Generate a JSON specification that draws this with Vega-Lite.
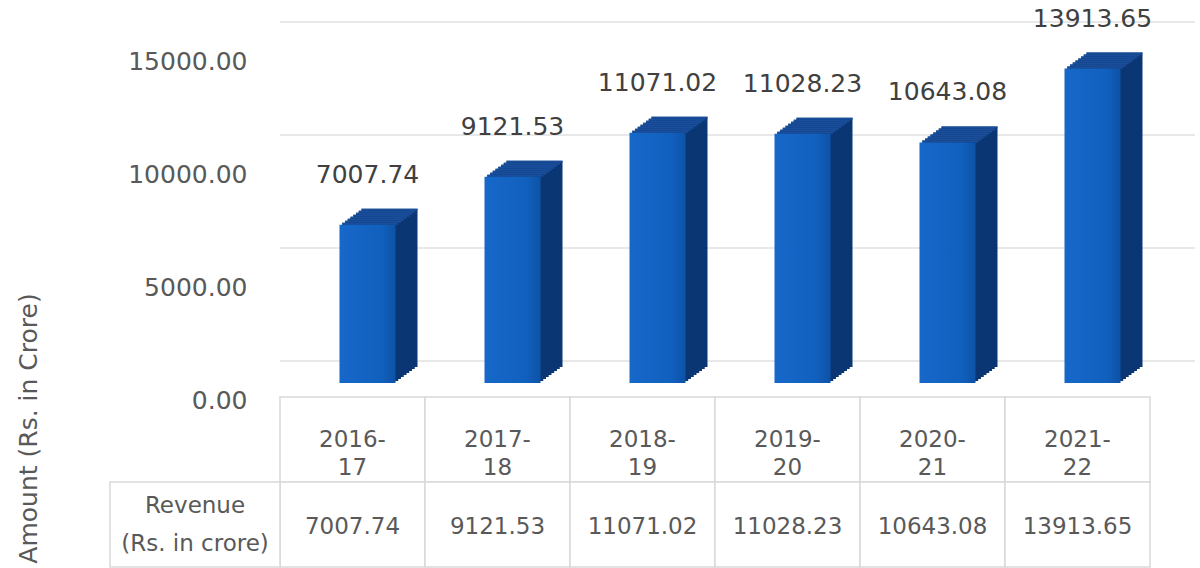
{
  "$schema": "https://vega.github.io/schema/vega-lite/v6.json",
  "width": 870,
  "height": 339,
  "autosize": {"type": "none"},
  "padding": {"left": 280, "top": 44, "right": 50, "bottom": 185},
  "background": "white",
  "config": {
    "view": {"stroke": null},
    "font": "DejaVu Sans",
    "text": {"font": "DejaVu Sans"}
  },
  "datasets": {
    "revenue": [
      {"year": "2016-17", "value": 7007.74},
      {"year": "2017-18", "value": 9121.53},
      {"year": "2018-19", "value": 11071.02},
      {"year": "2019-20", "value": 11028.23},
      {"year": "2020-21", "value": 10643.08},
      {"year": "2021-22", "value": 13913.65}
    ],
    "grid": [{"level": 0}, {"level": 5000}, {"level": 10000}, {"level": 15000}],
    "header": [{"header": "Revenue\n(Rs. in crore)"}]
  },
  "layer": [
    {
      "data": {"name": "revenue"},
      "encoding": {
        "x": {"field": "year", "type": "nominal", "sort": null, "scale": {"paddingInner": 0, "paddingOuter": 0}, "axis": null},
        "y": {"field": "value", "type": "quantitative", "title": "Amount (Rs. in Crore)", "scale": {"domain": [0, 15000], "nice": false, "zero": true},
          "axis": {"values": [0, 5000, 10000, 15000], "format": ".2f", "grid": false, "ticks": false, "domain": false, "labelOffset": 17, "labelPadding": 33, "labelFontSize": 25, "labelColor": "#595959", "labelFont": "DejaVu Sans",
            "titleFont": "DejaVu Sans", "titleFontSize": 25, "titleFontWeight": "normal", "titleColor": "#595959", "titleX": -252, "titleY": 384, "titleAngle": -90, "titleAlign": "center", "titleBaseline": "middle"}}
      },
      "layer": [
        {
          "data": {"name": "grid"},
          "mark": {"type": "rule", "color": "#e0e0e0", "strokeWidth": 1.5, "yOffset": -22, "xOffset": 45},
          "encoding": {"x": null, "y": {"field": "level", "type": "quantitative", "title": "Amount (Rs. in Crore)"}}
        },
        {"mark": {"type": "bar", "width": 56, "xOffset": 37, "yOffset": -16, "color": "#0b3674"}},
        {"mark": {"type": "bar", "width": 56, "xOffset": 34.25, "yOffset": -14, "color": "#0b3674"}},
        {"mark": {"type": "bar", "width": 56, "xOffset": 31.5, "yOffset": -12, "color": "#0b3674"}},
        {"mark": {"type": "bar", "width": 56, "xOffset": 28.75, "yOffset": -10, "color": "#0b3674"}},
        {"mark": {"type": "bar", "width": 56, "xOffset": 26, "yOffset": -8, "color": "#0b3674"}},
        {"mark": {"type": "bar", "width": 56, "xOffset": 23.25, "yOffset": -6, "color": "#0b3674"}},
        {"mark": {"type": "bar", "width": 56, "xOffset": 20.5, "yOffset": -4, "color": "#0b3674"}},
        {"mark": {"type": "bar", "width": 56, "xOffset": 17.75, "yOffset": -2, "color": "#0b3674"}},
        {"mark": {"type": "bar", "width": 56, "xOffset": 37, "yOffset": -16, "y2Offset": -14, "color": "#1a4e9a"}, "encoding": {"y2": {"field": "value"}}},
        {"mark": {"type": "bar", "width": 56, "xOffset": 34.25, "yOffset": -14, "y2Offset": -12, "color": "#1a4e9a"}, "encoding": {"y2": {"field": "value"}}},
        {"mark": {"type": "bar", "width": 56, "xOffset": 31.5, "yOffset": -12, "y2Offset": -10, "color": "#1a4e9a"}, "encoding": {"y2": {"field": "value"}}},
        {"mark": {"type": "bar", "width": 56, "xOffset": 28.75, "yOffset": -10, "y2Offset": -8, "color": "#1a4e9a"}, "encoding": {"y2": {"field": "value"}}},
        {"mark": {"type": "bar", "width": 56, "xOffset": 26, "yOffset": -8, "y2Offset": -6, "color": "#1a4e9a"}, "encoding": {"y2": {"field": "value"}}},
        {"mark": {"type": "bar", "width": 56, "xOffset": 23.25, "yOffset": -6, "y2Offset": -4, "color": "#1a4e9a"}, "encoding": {"y2": {"field": "value"}}},
        {"mark": {"type": "bar", "width": 56, "xOffset": 20.5, "yOffset": -4, "y2Offset": -2, "color": "#1a4e9a"}, "encoding": {"y2": {"field": "value"}}},
        {"mark": {"type": "bar", "width": 56, "xOffset": 17.75, "yOffset": -2, "y2Offset": 0, "color": "#1a4e9a"}, "encoding": {"y2": {"field": "value"}}},
        {
          "mark": {"type": "bar", "width": 56, "xOffset": 15, "color": {"x1": 0, "y1": 0, "x2": 1, "y2": 0, "gradient": "linear", "stops": [{"offset": 0, "color": "#1668c9"}, {"offset": 0.75, "color": "#1160be"}, {"offset": 1, "color": "#0d52a6"}]}}
        },
        {
          "mark": {"type": "text", "xOffset": 15, "yOffset": -50, "baseline": "middle", "align": "center", "fontSize": 25, "color": "#404040"},
          "encoding": {"text": {"field": "value", "type": "quantitative", "format": ".2f"}}
        }
      ]
    },
    {
      "data": {"name": "revenue"},
      "encoding": {
        "x": {"field": "year", "type": "nominal", "sort": null, "scale": {"paddingInner": 0, "paddingOuter": 0}, "axis": null}
      },
      "layer": [
        {
          "mark": {"type": "rect", "fill": "white", "stroke": "#d9d9d9", "strokeWidth": 1.5},
          "encoding": {
            "y": {"datum": "yr", "type": "nominal", "scale": {"domain": ["yr", "rev"], "range": [353, 523], "paddingInner": 0, "paddingOuter": 0}, "axis": null}
          }
        },
        {
          "mark": {"type": "rect", "fill": "white", "stroke": "#d9d9d9", "strokeWidth": 1.5},
          "encoding": {"y": {"datum": "rev", "type": "nominal"}}
        },
        {
          "mark": {"type": "text", "fontSize": 23, "color": "#595959", "align": "center", "baseline": "middle", "lineHeight": 28, "yOffset": 0.5, "text": {"expr": "[slice(datum.year, 0, 5), slice(datum.year, 5)]"}},
          "encoding": {"y": {"datum": "yr", "type": "nominal"}}
        },
        {
          "mark": {"type": "text", "fontSize": 23, "color": "#595959", "align": "center", "baseline": "middle", "yOffset": 2},
          "encoding": {
            "y": {"datum": "rev", "type": "nominal"},
            "text": {"field": "value", "type": "quantitative", "format": ".2f"}
          }
        }
      ]
    },
    {
      "data": {"name": "header"},
      "layer": [
        {
          "mark": {"type": "rect", "fill": "white", "stroke": "#d9d9d9", "strokeWidth": 1.5},
          "encoding": {
            "x": {"field": "header", "type": "nominal", "scale": {"range": [-170, 0], "paddingInner": 0, "paddingOuter": 0}, "axis": null},
            "y": {"datum": "rev", "type": "nominal", "scale": {"domain": ["yr", "rev"], "range": [353, 523], "paddingInner": 0, "paddingOuter": 0}, "axis": null}
          }
        },
        {
          "mark": {"type": "text", "fontSize": 23, "color": "#595959", "align": "center", "baseline": "middle", "lineHeight": 38, "lineBreak": "\n", "yOffset": -19},
          "encoding": {
            "x": {"field": "header", "type": "nominal"},
            "y": {"datum": "rev", "type": "nominal"},
            "text": {"field": "header", "type": "nominal"}
          }
        }
      ]
    }
  ],
  "resolve": {"scale": {"x": "independent", "y": "independent"}}
}
